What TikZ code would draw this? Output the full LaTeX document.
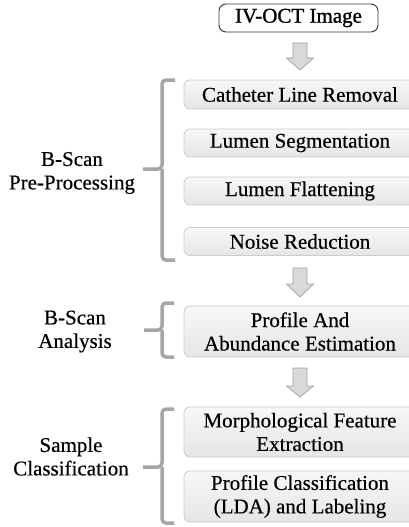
\documentclass[tikz,border=0pt]{standalone}
\usepackage{fontspec}
\setmainfont{Liberation Serif}
\newfontfamily\txtfont{Liberation Serif}[FakeBold=0.45]
\newfontfamily\topfont{Liberation Serif}[FakeBold=1.1]
\begin{document}
\begin{tikzpicture}[x=1pt,y=-1pt,
  font=\txtfont\fontsize{21}{23.5}\selectfont,
  stepbox/.style={rounded corners=6pt, draw=black!20, line width=0.8pt,
    top color=black!3, bottom color=black!10, minimum width=232pt,
    inner sep=0pt, align=center, anchor=center},
  topbox/.style={rounded corners=7pt, draw=black!80, line width=0.9pt, fill=white,
    minimum width=159pt, minimum height=28pt, inner sep=0pt,
    font=\topfont\fontsize{21}{23.5}\selectfont},
  lbl/.style={align=center, inner sep=0pt},
  brk/.style={draw=black!35, line width=3.5pt, rounded corners=4pt},
  blockarrow/.style={fill=black!15, draw=black!38, line width=0.7pt, line join=miter}
]
\useasboundingbox (0,0) rectangle (409,527);
\clip (0,0) rectangle (409,527);

% top box
\node[topbox] (img) at (298.5,18) {IV-OCT Image};

% step boxes
\node[stepbox, minimum height=29pt] (cat) at (300,94.5) {Catheter Line Removal};
\node[stepbox, minimum height=28pt] (seg) at (300,143) {Lumen Segmentation};
\node[stepbox, minimum height=28pt] (flat) at (300,191) {Lumen Flattening};
\node[stepbox, minimum height=28pt] (noise) at (300,241.5) {Noise Reduction};
\node[stepbox, minimum height=51pt] (prof) at (300,331.5) {Profile And\\Abundance Estimation};
\node[stepbox, minimum height=50pt] (morph) at (300,432) {Morphological Feature\\Extraction};
\node[stepbox, minimum height=51pt] (lda) at (300,496.5) {Profile Classification\\(LDA) and Labeling};

% labels
\node[lbl] (pre) at (72,173) {B-Scan\\Pre-Processing};
\node[lbl] (ana) at (75,331.5) {B-Scan\\Analysis};
\node[lbl] (cls) at (71,456.5) {Sample\\Classification};

% brackets
\coordinate (b1t) at (175,80);
\coordinate (b1b) at (175,260);
\coordinate (b1m) at (143,169);
\draw[brk] (b1t) -- (162,80) -- (162,169) -- (b1m);
\draw[brk] (b1b) -- (162,260) -- (162,169);

\coordinate (b2t) at (174,303);
\coordinate (b2b) at (174,357);
\coordinate (b2m) at (144,330);
\draw[brk] (b2t) -- (162,303) -- (162,330) -- (b2m);
\draw[brk] (b2b) -- (162,357) -- (162,330);

\coordinate (b3t) at (174,409);
\coordinate (b3b) at (174,523);
\coordinate (b3m) at (143,467);
\draw[brk] (b3t) -- (162,409) -- (162,467) -- (b3m);
\draw[brk] (b3b) -- (162,523) -- (162,467);

% block arrows
\draw[blockarrow] (293,43) -- (307,43) -- (307,58) -- (313.5,58) -- (300,70) -- (286.5,58) -- (293,58) -- cycle;
\draw[blockarrow] (293,268) -- (307,268) -- (307,284) -- (313.5,284) -- (300,297) -- (286.5,284) -- (293,284) -- cycle;
\draw[blockarrow] (293,368) -- (307,368) -- (307,386) -- (313.5,386) -- (300,397) -- (286.5,386) -- (293,386) -- cycle;
\end{tikzpicture}
\end{document}
